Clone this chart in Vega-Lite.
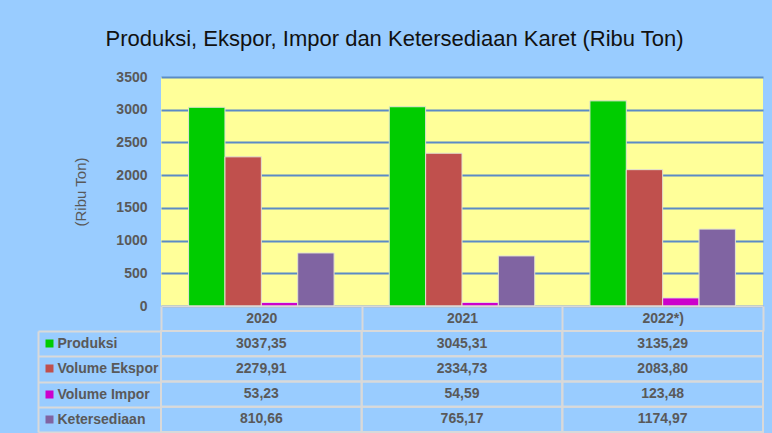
{
  "$schema": "https://vega.github.io/schema/vega-lite/v6.json",
  "background": "#99ccff",
  "padding": {"left": 37, "right": 8, "top": 28, "bottom": 2},
  "title": {
    "text": "Produksi, Ekspor, Impor dan Ketersediaan Karet (Ribu Ton)",
    "anchor": "middle",
    "frame": "bounds",
    "dx": -6,
    "offset": 19,
    "font": "Liberation Sans",
    "fontSize": 22,
    "fontWeight": "normal",
    "color": "#111111"
  },
  "config": {
    "font": "Liberation Sans",
    "view": {"stroke": null},
    "locale": {
      "number": {"decimal": ",", "thousands": ".", "grouping": [3], "currency": ["", ""]}
    }
  },
  "data": {
    "values": [
      {"year": "2020", "series": "Produksi", "value": 3037.35},
      {"year": "2020", "series": "Volume Ekspor", "value": 2279.91},
      {"year": "2020", "series": "Volume Impor", "value": 53.23},
      {"year": "2020", "series": "Ketersediaan", "value": 810.66},
      {"year": "2021", "series": "Produksi", "value": 3045.31},
      {"year": "2021", "series": "Volume Ekspor", "value": 2334.73},
      {"year": "2021", "series": "Volume Impor", "value": 54.59},
      {"year": "2021", "series": "Ketersediaan", "value": 765.17},
      {"year": "2022*)", "series": "Produksi", "value": 3135.29},
      {"year": "2022*)", "series": "Volume Ekspor", "value": 2083.80},
      {"year": "2022*)", "series": "Volume Impor", "value": 123.48},
      {"year": "2022*)", "series": "Ketersediaan", "value": 1174.97}
    ]
  },
  "spacing": -8,
  "vconcat": [
    {
      "width": 602,
      "height": 229,
      "view": {"fill": "#ffff99", "stroke": null},
      "mark": {"type": "bar", "stroke": "#e3e3d0", "strokeWidth": 1},
      "encoding": {
        "x": {
          "field": "year", "type": "nominal", "sort": ["2020", "2021", "2022*)"],
          "scale": {"paddingInner": 0.275, "paddingOuter": 0.1375},
          "axis": null
        },
        "xOffset": {
          "field": "series", "type": "nominal",
          "sort": ["Produksi", "Volume Ekspor", "Volume Impor", "Ketersediaan"],
          "scale": {"paddingInner": 0, "paddingOuter": 0}
        },
        "y": {
          "field": "value", "type": "quantitative",
          "scale": {"domain": [0, 3500], "nice": false},
          "axis": {
            "values": [0, 500, 1000, 1500, 2000, 2500, 3000, 3500],
            "format": "d",
            "title": "(Ribu Ton)",
            "titleFont": "Liberation Sans",
            "titleFontSize": 15,
            "titleFontWeight": "normal",
            "titleColor": "#595959",
            "titlePadding": 27,
            "labelFont": "Liberation Sans",
            "labelFontSize": 14,
            "labelFontWeight": "bold",
            "labelColor": "#595959",
            "labelPadding": 14,
            "ticks": false,
            "domain": false,
            "grid": true,
            "gridColor": "#5b8bc6",
            "gridWidth": 2
          }
        },
        "color": {
          "field": "series", "type": "nominal",
          "scale": {
            "domain": ["Produksi", "Volume Ekspor", "Volume Impor", "Ketersediaan"],
            "range": ["#00cc00", "#c0504d", "#cc00cc", "#8064a2"]
          },
          "legend": null
        }
      }
    },
    {
      "width": 602,
      "height": 101,
      "resolve": {"axis": {"x": "independent", "y": "independent"}},
      "layer": [
        {
          "mark": {"type": "rect", "fillOpacity": 0, "stroke": "#d9d9d9", "strokeWidth": 2},
          "encoding": {
            "x": {
              "field": "year", "type": "nominal", "sort": ["2020", "2021", "2022*)"],
              "scale": {"paddingInner": 0, "paddingOuter": 0},
              "axis": {
                "orient": "top", "title": null, "domain": false,
                "ticks": true, "tickBand": "extent", "tickSize": 25,
                "tickColor": "#d9d9d9", "tickWidth": 2,
                "labelAngle": 0, "labelPadding": -12.5, "labelBaseline": "middle",
                "labelFont": "Liberation Sans", "labelFontSize": 14,
                "labelFontWeight": "bold", "labelColor": "#595959"
              }
            },
            "y": {
              "field": "series", "type": "nominal",
              "sort": ["Produksi", "Volume Ekspor", "Volume Impor", "Ketersediaan"],
              "scale": {"paddingInner": 0, "paddingOuter": 0},
              "axis": {
                "orient": "left", "title": null, "domain": false,
                "ticks": true, "tickBand": "extent", "tickSize": 123,
                "tickColor": "#d9d9d9", "tickWidth": 2,
                "labelAlign": "left", "labelPadding": -19, "labelBaseline": "middle",
                "labelFont": "Liberation Sans", "labelFontSize": 14,
                "labelFontWeight": "bold", "labelColor": "#595959",
                "labelBound": false, "labelOverlap": false
              }
            }
          }
        },
        {
          "mark": {"type": "text", "font": "Liberation Sans", "fontSize": 14, "fontWeight": "bold", "color": "#595959"},
          "encoding": {
            "x": {
              "field": "year", "type": "nominal", "sort": ["2020", "2021", "2022*)"],
              "axis": {
                "orient": "top", "offset": 25, "title": null,
                "domain": true, "domainColor": "#d9d9d9", "domainWidth": 2,
                "ticks": false, "labels": false
              }
            },
            "y": {
              "field": "series", "type": "nominal",
              "sort": ["Produksi", "Volume Ekspor", "Volume Impor", "Ketersediaan"],
              "axis": {
                "orient": "left", "offset": 108, "title": null,
                "domain": false, "labels": false,
                "ticks": true, "tickSize": 8, "tickWidth": 8,
                "tickColor": {
                  "condition": [
                    {"test": "datum.value === 'Produksi'", "value": "#00cc00"},
                    {"test": "datum.value === 'Volume Ekspor'", "value": "#c0504d"},
                    {"test": "datum.value === 'Volume Impor'", "value": "#cc00cc"}
                  ],
                  "value": "#8064a2"
                }
              }
            },
            "text": {"field": "value", "type": "quantitative", "format": ".2f"}
          }
        },
        {
          "mark": {"type": "rect", "opacity": 0},
          "encoding": {
            "x": {
              "field": "year", "type": "nominal", "sort": ["2020", "2021", "2022*)"],
              "axis": null
            },
            "y": {
              "field": "series", "type": "nominal",
              "sort": ["Produksi", "Volume Ekspor", "Volume Impor", "Ketersediaan"],
              "axis": {
                "orient": "left", "offset": 123, "title": null,
                "domain": true, "domainColor": "#d9d9d9", "domainWidth": 2,
                "ticks": false, "labels": false
              }
            }
          }
        }
      ]
    }
  ]
}
